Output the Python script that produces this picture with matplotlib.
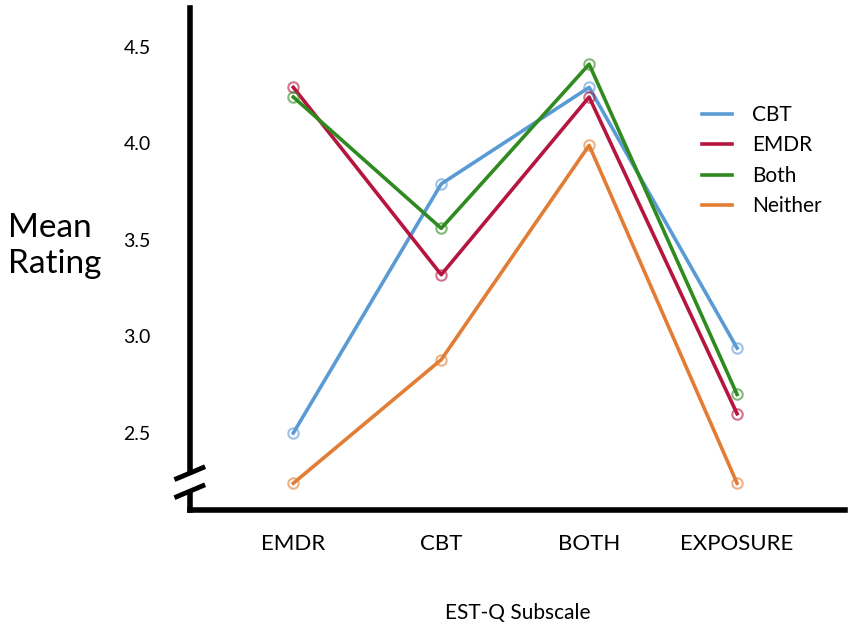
import numpy as np
import matplotlib
matplotlib.use('Agg')
import matplotlib.pyplot as plt

subscales = ['EMDR', 'CBT', 'BOTH', 'EXPOSURE']
cbt = [2.50, 3.79, 4.29, 2.94]
emdr = [4.29, 3.32, 4.24, 2.60]
both = [4.24, 3.56, 4.41, 2.70]
neither = [2.24, 2.88, 3.99, 2.24]
y_ticks = [2.5, 3.0, 3.5, 4.0, 4.5]

series = [('CBT', cbt, '#5b9bd5'),
          ('EMDR', emdr, '#b5153f'),
          ('Both', both, '#2f8a1f'),
          ('Neither', neither, '#e27d35')]

plt.rcParams['font.family'] = ['Lato', 'DejaVu Sans']

fig = plt.figure(figsize=(8.51, 6.3), dpi=100)
ax = fig.add_axes([0.223, 0.190, 0.770, 0.797])

x = np.arange(len(subscales))
for name, vals, col in series:
    ax.plot(x, vals, color=col, lw=2.6, label=name, zorder=2)
    ax.plot(x, vals, 'o', ms=7.5, mfc='none', mec=col, mew=1.5, alpha=0.6, zorder=3)

ax.set_xlim(-0.70, 3.73)
ax.set_ylim(2.10, 4.70)
ax.set_xticks(x)
ax.set_xticklabels(subscales, fontsize=16, color='black')
ax.set_yticks(y_ticks)
ax.set_yticklabels(['%.1f' % v for v in y_ticks], fontsize=14, color='black')
ax.tick_params(axis='both', length=0)
ax.tick_params(axis='y', pad=28)
ax.tick_params(axis='x', pad=17)

for s in ['top', 'right']:
    ax.spines[s].set_visible(False)
ax.spines['left'].set_linewidth(4)
ax.spines['bottom'].set_linewidth(4)

# axis break marks
for yb in [0.074, 0.038]:
    ax.plot([-0.02, 0.02], [yb - 0.011, yb + 0.011], transform=ax.transAxes,
            color='black', lw=3.5, clip_on=False, zorder=5)
ax.plot([0, 0], [0.047, 0.065], transform=ax.transAxes, color='white', lw=6,
        clip_on=False, zorder=4)

ax.set_xlabel('EST-Q Subscale', fontsize=15, labelpad=35)
fig.text(0.009, 0.610, 'Mean\nRating', fontsize=24, ha='left', va='center',
         linespacing=1.25)

leg = fig.legend(*ax.get_legend_handles_labels(), loc='upper left',
                 bbox_to_anchor=(702 / 851, 1 - 105 / 630), frameon=False,
                 fontsize=15, handlelength=1.45, handletextpad=0.95,
                 labelspacing=0.5, borderpad=0, borderaxespad=0)

fig.savefig('out.png', dpi=100)
